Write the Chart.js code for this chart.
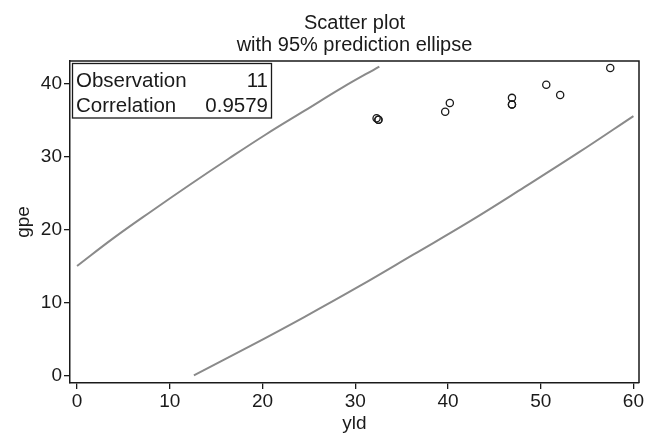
<!DOCTYPE html>
<html>
<head>
<meta charset="utf-8">
<title>Scatter plot</title>
<script src="https://cdn.jsdelivr.net/npm/chart.js@4.4.1/dist/chart.umd.min.js"></script>
<style>
    html, body { margin: 0; padding: 0; background: #ffffff; }
    #wrap { width: 655px; height: 435px; position: relative; }
</style>
</head>
<body>
<div id="wrap"><canvas id="scatterChart" width="655" height="435"></canvas></div>
<script>

const yldValues = [32.3, 32.5, 32.5, 39.7, 40.2, 46.9, 46.9, 46.9, 50.6, 52.1, 57.5];
const gpeValues = [35.3, 35.1, 35.1, 36.2, 37.4, 38.1, 37.2, 37.2, 39.9, 38.5, 42.2];

// visible parts of the 95% prediction ellipse
const upperCurveYld = [0, 4.0, 8.1, 12.2, 16.3, 20.4, 24.5, 28.6, 32.6];
const upperCurveGpe = [15.0, 18.9, 22.6, 26.2, 29.7, 33.1, 36.3, 39.5, 42.4];
const lowerCurveYld = [12.6, 18.5, 24.5, 30.4, 36.3, 42.3, 48.2, 54.1, 60.0];
const lowerCurveGpe = [0, 3.9, 8.0, 12.2, 16.6, 21.1, 25.8, 30.6, 35.6];

const xTicks = [0, 10, 20, 30, 40, 50, 60];
const yTicks = [0, 10, 20, 30, 40];

const observationCount = '11';
const correlationText = '0.9579';

const FONT = "'Liberation Sans', Arial, Helvetica, sans-serif";
const INK = '#1a1a1a';

const toPoints = (xs, ys) => xs.map((x, i) => ({ x: x, y: ys[i] }));


const frameAndLabels = {
    id: 'frameAndLabels',
    afterDraw(chart) {
        const ctx = chart.ctx;
        const area = chart.chartArea;
        ctx.save();

        // top and right side of the plot box
        ctx.strokeStyle = INK;
        ctx.lineWidth = 1.5;
        ctx.beginPath();
        ctx.moveTo(area.left, area.top);
        ctx.lineTo(area.right, area.top);
        ctx.lineTo(area.right, area.bottom);
        ctx.stroke();

        // title
        ctx.fillStyle = INK;
        ctx.textAlign = 'center';
        ctx.textBaseline = 'alphabetic';
        ctx.font = '20px ' + FONT;
        const cx = (area.left + area.right) / 2;
        ctx.fillText('Scatter plot', cx, 29);
        ctx.fillText('with 95% prediction ellipse', cx, 51);

        // stats box
        ctx.lineWidth = 1.3;
        ctx.strokeRect(72.5, 63.5, 199, 54.5);
        ctx.font = '20.5px ' + FONT;
        ctx.textAlign = 'left';
        ctx.fillText('Observation', 76, 87);
        ctx.fillText('Correlation', 76, 112);
        ctx.textAlign = 'right';
        ctx.fillText(observationCount, 268, 87);
        ctx.fillText(correlationText, 268, 112);

        ctx.restore();
    }
};


function renderScatterChart() {
    const ctx = document.getElementById('scatterChart').getContext('2d');

    new Chart(ctx, {
        type: 'scatter',
        data: {
            datasets: [
                {
                    label: 'upper',
                    data: toPoints(upperCurveYld, upperCurveGpe),
                    showLine: true,
                    borderColor: '#8a8a8a',
                    borderWidth: 2,
                    pointRadius: 0,
                    tension: 0.4,
                    fill: false
                },
                {
                    label: 'lower',
                    data: toPoints(lowerCurveYld, lowerCurveGpe),
                    showLine: true,
                    borderColor: '#8a8a8a',
                    borderWidth: 2,
                    pointRadius: 0,
                    tension: 0.4,
                    fill: false
                },
                {
                    label: 'gpe',
                    data: toPoints(yldValues, gpeValues),
                    pointStyle: 'circle',
                    pointRadius: 3.6,
                    pointBorderWidth: 1.3,
                    pointBackgroundColor: 'rgba(0,0,0,0)',
                    pointBorderColor: INK
                }
            ]
        },
        options: {
            responsive: false,
            animation: false,
            layout: {
                padding: { top: 61, right: 16, left: 0, bottom: 0 }
            },
            plugins: {
                legend: { display: false },
                tooltip: { enabled: false }
            },
            scales: {
                x: {
                    type: 'linear',
                    min: -0.76,
                    max: 60.6,
                    afterBuildTicks: (scale) => { scale.ticks = xTicks.map(v => ({ value: v })); },
                    afterFit: (scale) => { scale.height = 52; },
                    grid: { drawOnChartArea: false, drawTicks: true, tickLength: 6, color: INK, lineWidth: 1.3 },
                    border: { display: true, color: INK, width: 1.5 },
                    ticks: { color: INK, font: { family: FONT, size: 19 }, padding: 1, maxRotation: 0 },
                    title: {
                        display: true,
                        text: 'yld',
                        color: INK,
                        font: { family: FONT, size: 19 },
                        padding: { top: 2, bottom: 0 }
                    }
                },
                y: {
                    type: 'linear',
                    min: -1.06,
                    max: 43.16,
                    afterBuildTicks: (scale) => { scale.ticks = yTicks.map(v => ({ value: v })); },
                    afterFit: (scale) => { scale.width = 70; },
                    grid: { drawOnChartArea: false, drawTicks: true, tickLength: 6, color: INK, lineWidth: 1.3 },
                    border: { display: true, color: INK, width: 1.5 },
                    ticks: { color: INK, font: { family: FONT, size: 19 }, padding: 2 },
                    title: {
                        display: true,
                        text: 'gpe',
                        color: INK,
                        font: { family: FONT, size: 19 },
                        padding: { top: 12, bottom: 0 }
                    }
                }
            }
        },
        plugins: [frameAndLabels]
    });
}


window.addEventListener('DOMContentLoaded', () => {
    renderScatterChart();
});
</script>
</body>
</html>
